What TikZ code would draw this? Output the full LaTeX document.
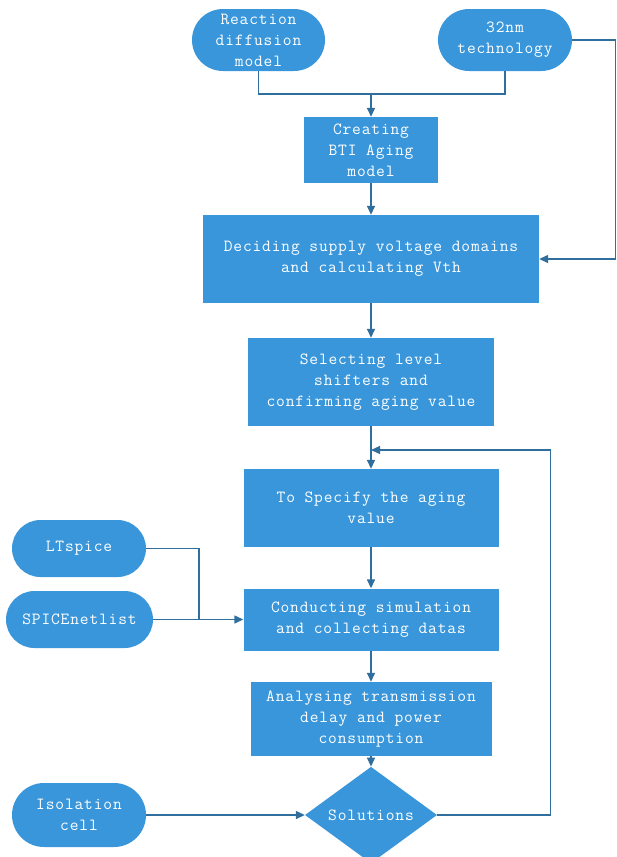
\documentclass[tikz,border=0pt]{standalone}
\usepackage{fontspec}
\setmonofont{Latin Modern Mono}[LetterSpace=5]
\usetikzlibrary{shapes.geometric,arrows.meta}
\definecolor{boxblue}{RGB}{57,150,218}
\definecolor{lineblue}{RGB}{48,110,158}
\tikzset{
  base/.style={fill=boxblue,draw=none,text=white,align=center,inner sep=0pt,
    font=\ttfamily\fontsize{17}{21}\selectfont},
  procbox/.style={base,rectangle},
  termbox/.style={base,rectangle,rounded corners=#1},
  decbox/.style={base,diamond},
  conn/.style={draw=lineblue,line width=1.4pt},
  arr/.style={conn,-{Triangle[length=9pt,width=8pt]}}
}
\begin{document}
\begin{tikzpicture}[x=1pt,y=-1pt]
\useasboundingbox[fill=white] (0,0) rectangle (616,857);
\node[termbox=31pt,minimum width=133pt,minimum height=62pt] (rdm) at (258.5,40) {Reaction\\diffusion\\model};
\node[termbox=31pt,minimum width=134pt,minimum height=62pt] (tech) at (505,40) {32nm\\technology};
\node[procbox,minimum width=134pt,minimum height=66pt] (bti) at (371,150) {Creating\\BTI Aging\\model};
\node[procbox,minimum width=336pt,minimum height=88pt] (dec) at (371,259) {Deciding supply voltage domains\\and calculating Vth};
\node[procbox,minimum width=246pt,minimum height=88pt] (sel) at (371,382) {Selecting level\\shifters and\\confirming aging value};
\node[procbox,minimum width=255pt,minimum height=78pt] (spec) at (371,508) {To Specify the aging\\value};
\node[procbox,minimum width=255pt,minimum height=62pt] (cond) at (371,619.5) {Conducting simulation\\and collecting datas};
\node[procbox,minimum width=241pt,minimum height=74pt] (ana) at (371,719) {Analysing transmission\\delay and power\\consumption};
\node[decbox,minimum width=132pt,minimum height=76pt] (sol) at (371,815) {Solutions};
\node[termbox=28.5pt,minimum width=134pt,minimum height=57pt] (lt) at (79,548.5) {LTspice};
\node[termbox=28.5pt,minimum width=147pt,minimum height=57pt] (spn) at (79.5,619.5) {SPICEnetlist};
\node[termbox=32pt,minimum width=134pt,minimum height=64pt] (iso) at (79,815) {Isolation\\cell};
\coordinate (j) at (371,94);
\coordinate (m) at (199,619.5);
\coordinate (fb) at (371,450);
\draw[conn] (rdm.south) |- (j);
\draw[conn] (tech.south) |- (j);
\draw[arr] (j) -- (bti.north);
\draw[arr] (bti.south) -- (dec.north);
\draw[arr] (tech.east) -- ++(43,0) |- (dec.east);
\draw[arr] (dec.south) -- (sel.north);
\draw[arr] (sel.south) -- (spec.north);
\draw[arr] (spec.south) -- (cond.north);
\draw[arr] (cond.south) -- (ana.north);
\draw[arr] (ana.south) -- (sol.north);
\draw[conn] (lt.east) -| (m);
\draw[arr] (spn.east) -- (cond.west);
\draw[arr] (iso.east) -- (sol.west);
\draw[arr] (sol.east) -- ++(113,0) |- (fb);
\end{tikzpicture}
\end{document}
